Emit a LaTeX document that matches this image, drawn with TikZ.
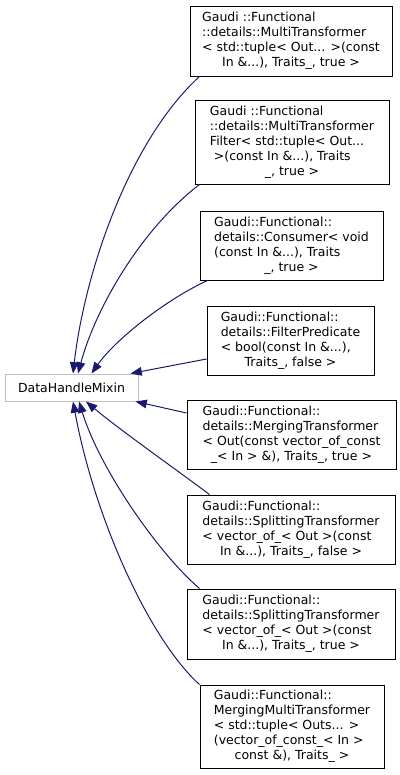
\documentclass[tikz,border=0pt]{standalone}
\usepackage{fontspec}
\setmainfont{DejaVu Sans}
\usetikzlibrary{arrows.meta}
\definecolor{edgec}{HTML}{191970}
\definecolor{graybd}{HTML}{BFBFBF}
\tikzset{
  cls/.style={draw=black, fill=white, line width=0.75pt, inner sep=0pt,
    font=\fontsize{9.375}{11.25}\selectfont},
  base/.style={draw=graybd, fill=white, line width=0.75pt, inner sep=0pt,
    font=\fontsize{9.375}{11.25}\selectfont},
  edge/.style={draw=edgec, line width=0.75pt, -{Triangle[length=8.5pt,width=6.5pt]}}
}
\newcommand{\lines}[1]{\begin{tabular}{@{}l@{}}#1\end{tabular}}
\newcommand{\lastc}[1]{\multicolumn{1}{@{}c@{}}{#1}}
\begin{document}
\begin{tikzpicture}[x=0.75pt,y=-0.75pt]
\useasboundingbox (0,0) rectangle (400,775);
\node[base, minimum width=99.75pt, minimum height=20.25pt] (dhm) at (71.5,387.5) {DataHandleMixin};
\node[cls, minimum width=151.5pt, minimum height=52.5pt] (b1) at (291,41)
  {\lines{Gaudi ::Functional\\ ::details::MultiTransformer\\ < std::tuple< Out... >(const\\ \lastc{In \&...), Traits\_, true >}}};
\node[cls, minimum width=145.5pt, minimum height=63pt] (b2) at (292,142)
  {\lines{Gaudi ::Functional\\ ::details::MultiTransformer\\ Filter< std::tuple< Out...\\ \ >(const In \&...), Traits\\ \lastc{\_, true >}}};
\node[cls, minimum width=137.25pt, minimum height=51.75pt] (b3) at (291.5,245.5)
  {\lines{Gaudi::Functional::\\ details::Consumer< void\\ (const In \&...), Traits\\ \lastc{\_, true >}}};
\node[cls, minimum width=125.25pt, minimum height=51.75pt] (b4) at (290.5,340.5)
  {\lines{Gaudi::Functional::\\ details::FilterPredicate\\ < bool(const In \&...),\\ \lastc{Traits\_, false >}}};
\node[cls, minimum width=156.75pt, minimum height=51.75pt] (b5) at (291.5,434.5)
  {\lines{Gaudi::Functional::\\ details::MergingTransformer\\ < Out(const vector\_of\_const\\ \lastc{\_< In > \&), Traits\_, true >}}};
\node[cls, minimum width=156pt, minimum height=51.75pt] (b6) at (291,529.5)
  {\lines{Gaudi::Functional::\\ details::SplittingTransformer\\ < vector\_of\_< Out >(const\\ \lastc{In \&...), Traits\_, false >}}};
\node[cls, minimum width=156pt, minimum height=52.5pt] (b7) at (291,624)
  {\lines{Gaudi::Functional::\\ details::SplittingTransformer\\ < vector\_of\_< Out >(const\\ \lastc{In \&...), Traits\_, true >}}};
\node[cls, minimum width=138pt, minimum height=62.25pt] (b8) at (292,726.5)
  {\lines{Gaudi::Functional::\\ MergingMultiTransformer\\ < std::tuple< Outs... >\\ (vector\_of\_const\_< In >\\ \lastc{const \&), Traits\_ >}}};
\draw[edge] ([shift={(10,0)}]b1.south west) .. controls (130,140) and (85,270) .. ([shift={(1.5,0)}]dhm.north);
\draw[edge] ([shift={(5,0)}]b2.south west) .. controls (140,230) and (95,310) .. ([shift={(6.5,0)}]dhm.north);
\draw[edge] ([shift={(8,0)}]b3.south west) .. controls (165,300) and (115,340) .. ([shift={(20,0)}]dhm.north);
\draw[edge] ([shift={(0,18.5)}]b4.west) -- ([shift={(-8,0)}]dhm.north east);
\draw[edge] ([shift={(0,-21.5)}]b5.west) -- ([shift={(-3,0)}]dhm.south east);
\draw[edge] ([shift={(23,0)}]b6.north west) .. controls (170,465) and (120,430) .. ([shift={(14.5,0)}]dhm.south);
\draw[edge] ([shift={(13,0)}]b7.north west) .. controls (160,555) and (100,470) .. ([shift={(7.5,0)}]dhm.south);
\draw[edge] (b8.north west) .. controls (150,640) and (95,520) .. ([shift={(1.5,0)}]dhm.south);
\end{tikzpicture}
\end{document}
